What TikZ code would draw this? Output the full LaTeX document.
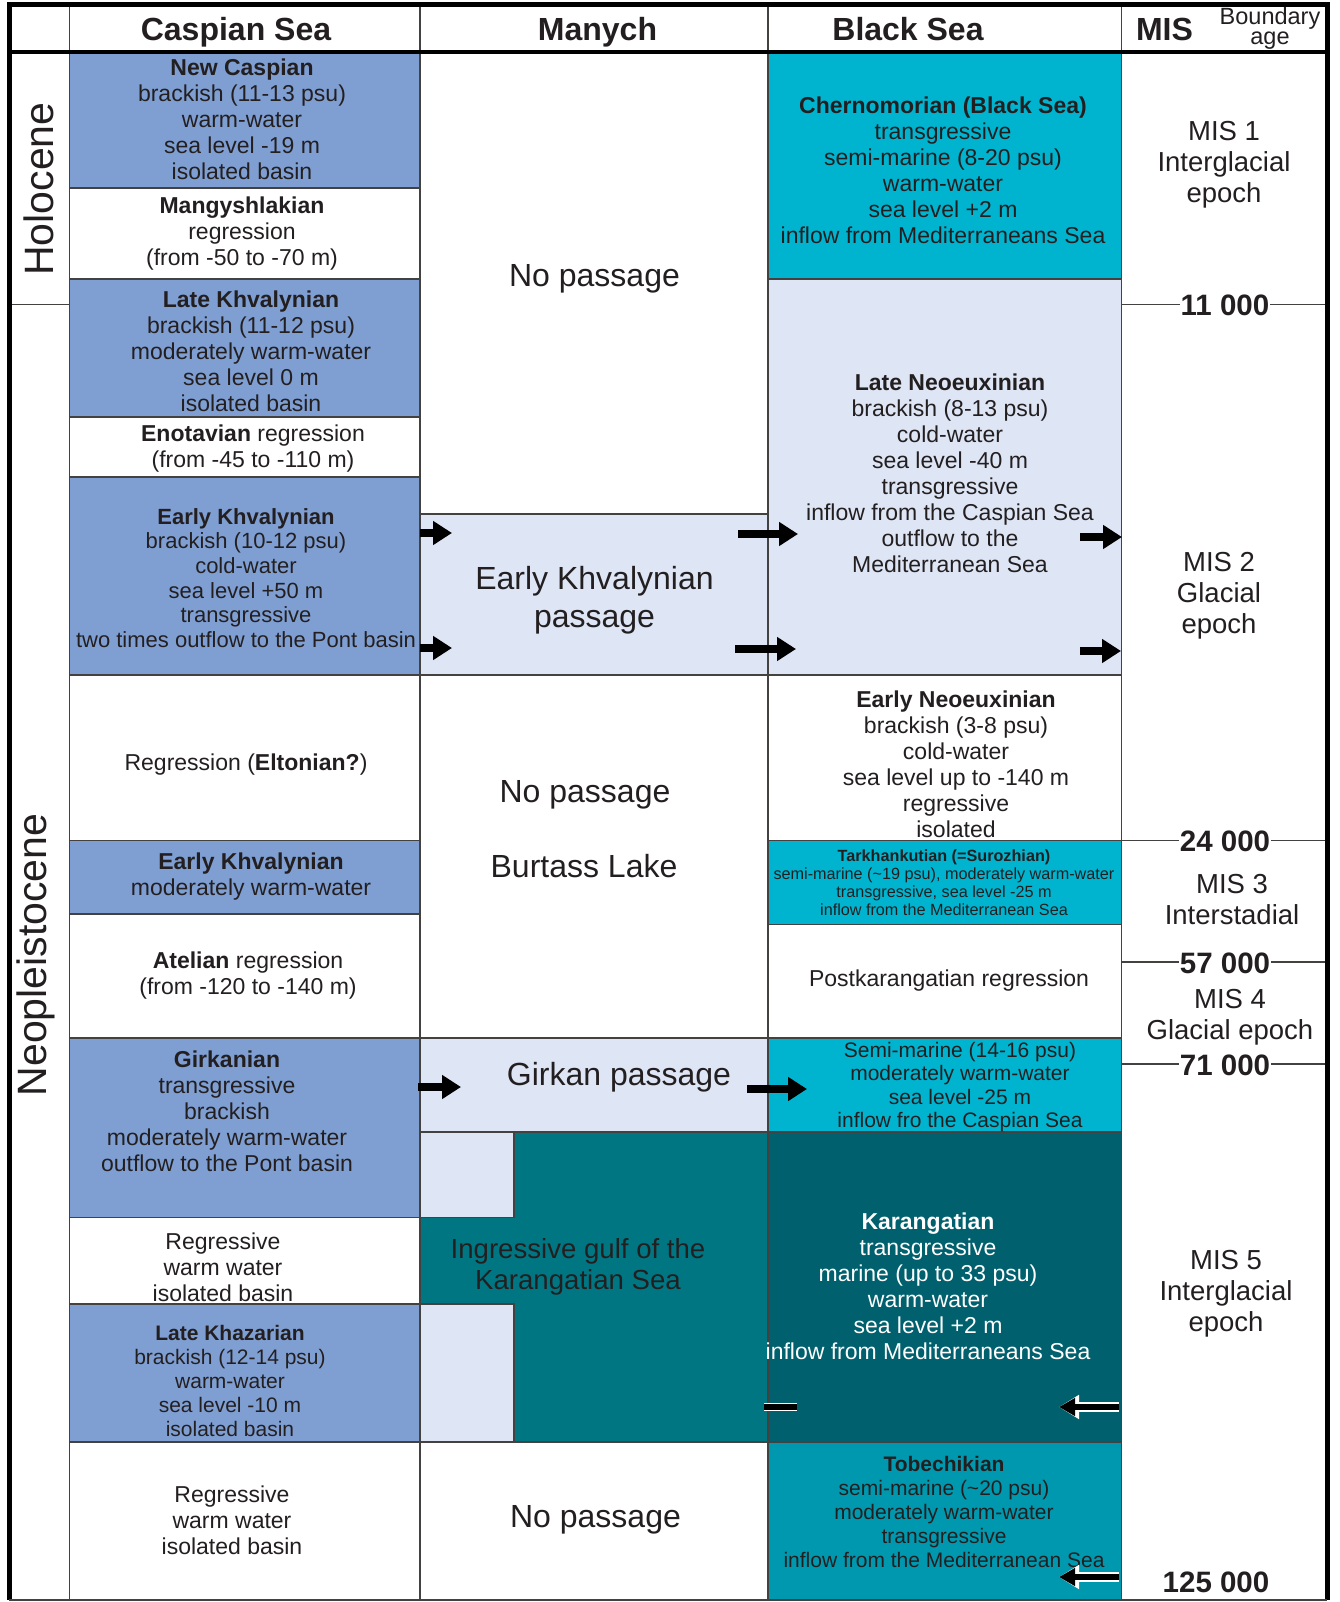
\documentclass[tikz,border=0pt]{standalone}
\usepackage{fontspec}
\setmainfont{Liberation Sans}
\usetikzlibrary{arrows.meta}
\definecolor{caspblue}{HTML}{7F9FD3}
\definecolor{passblue}{HTML}{DEE5F5}
\definecolor{seacyan}{HTML}{00B4D0}
\definecolor{gulfteal}{HTML}{007682}
\definecolor{kardark}{HTML}{00606E}
\definecolor{tobteal}{HTML}{0098AE}
\definecolor{ink}{HTML}{231F20}

\begin{document}
\begin{tikzpicture}[x=1pt, y=-1pt,
    cell/.style={draw=ink!85, line width=1.3pt},
    casp/.style={cell, fill=caspblue},
    pass/.style={cell, fill=passblue},
    sea/.style={cell, fill=seacyan},
    blank/.style={cell, fill=white},
    txt/.style={align=center, text=ink, inner sep=0pt, font=\fontsize{23}{26}\selectfont},
    big/.style={txt, font=\fontsize{32}{38}\selectfont},
    mis/.style={txt, font=\fontsize{27.5}{31}\selectfont},
    head/.style={txt, anchor=base, font=\bfseries\fontsize{32}{34}\selectfont},
    era/.style={txt, rotate=90, font=\fontsize{41}{44}\selectfont},
    age/.style={txt, fill=white, inner xsep=1pt, inner ysep=3pt, font=\bfseries\fontsize{29.5}{32}\selectfont},
    flow/.style={line width=8pt, -{Triangle[length=19pt, width=23pt]}},
    back/.style={line width=6pt, draw=black, -{Triangle[length=16pt, width=17pt]},
        preaction={draw=white, line width=9.5pt, -{Triangle[length=20pt, width=23pt]}}}]

\useasboundingbox (0,0) rectangle (1339,1602);
\fill[white] (0,0) rectangle (1339,1602);

% Caspian Sea column
\draw[casp]  (69.5,53)    rectangle (420,188);
\draw[blank] (69.5,188)   rectangle (420,279);
\draw[casp]  (69.5,279)   rectangle (420,417);
\draw[blank] (69.5,417)   rectangle (420,477);
\draw[casp]  (69.5,477)   rectangle (420,675);
\draw[blank] (69.5,675)   rectangle (420,840.6);
\draw[casp]  (69.5,840.6) rectangle (420,914);
\draw[blank] (69.5,914)   rectangle (420,1038);
\draw[casp]  (69.5,1038)  rectangle (420,1217.5);
\draw[blank] (69.5,1217.5) rectangle (420,1304);
\draw[casp]  (69.5,1304)  rectangle (420,1442);
\draw[blank] (69.5,1442)  rectangle (420,1600);

% Manych column
\draw[blank] (420,53)   rectangle (768,514);
\draw[pass]  (420,514)  rectangle (768,675);
\draw[blank] (420,675)  rectangle (768,1038);
\draw[pass]  (420,1038) rectangle (768,1132);
\draw[cell, fill=gulfteal] (514,1132) -- (768,1132) -- (768,1442) -- (514,1442)
    -- (514,1304) -- (420,1304) -- (420,1217.5) -- (514,1217.5) -- cycle;
\draw[pass]  (420,1132) rectangle (514,1217.5);
\draw[pass]  (420,1304) rectangle (514,1442);
\draw[blank] (420,1442) rectangle (768,1600);

% Black Sea column
\draw[sea]   (768,53)    rectangle (1121.5,279);
\draw[pass]  (768,279)   rectangle (1121.5,675);
\draw[blank] (768,675)   rectangle (1121.5,840.6);
\draw[sea]   (768,840.6) rectangle (1121.5,924.4);
\draw[blank] (768,924.4) rectangle (1121.5,1038);
\draw[sea]   (768,1038)  rectangle (1121.5,1132);
\draw[cell, fill=kardark] (768,1132) rectangle (1121.5,1442);
\draw[cell, fill=tobteal] (768,1442) rectangle (1121.5,1600);

% header and epoch separators
\draw[cell] (69.5,4) -- (69.5,1600);
\draw[cell] (420,4) -- (420,53);
\draw[cell] (768,4) -- (768,53);
\draw[cell] (1121.5,4) -- (1121.5,1600);
\draw[line width=4pt] (9,52) -- (1327,52);
\draw[cell] (9,304.4) -- (69.5,304.4);

% boundary lines in the MIS column
\draw[cell] (1121.5,304.4) -- (1327,304.4);
\draw[cell] (1121.5,840.6) -- (1327,840.6);
\draw[cell] (1121.5,962)   -- (1327,962);
\draw[cell] (1121.5,1064)  -- (1327,1064);

% header
\node[head] (h-casp) at (236,40.5) {Caspian Sea};
\node[head] (h-manych) at (597.5,40.5) {Manych};
\node[head] (h-black) at (908,40.5) {Black Sea};
\node[head] (h-mis) at (1164.5,40.5) {MIS};
\node[txt, font=\fontsize{23.5}{19.5}\selectfont] (h-age) at (1270,28.5) {Boundary\\age};

% epochs
\node[era] (holocene) at (39,189) {Holocene};
\node[era] (neopleist) at (36,955) {Neopleistocene};

% Caspian Sea texts
\node[txt] (casp-new) at (242,119.5) {\textbf{New Caspian}\\brackish (11-13 psu)\\warm-water\\sea level -19 m\\isolated basin};
\node[txt] (casp-mang) at (242,234) {\textbf{Mangyshlakian}\\regression\\(from -50 to -70 m)};
\node[txt] (casp-latekh) at (251,351) {\textbf{Late Khvalynian}\\brackish (11-12 psu)\\moderately warm-water\\sea level 0 m\\isolated basin};
\node[txt] (casp-enot) at (253,449) {\textbf{Enotavian} regression\\(from -45 to -110 m)};
\node[txt, font=\fontsize{22}{24.7}\selectfont] (casp-earlykh) at (246,578) {\textbf{Early Khvalynian}\\brackish (10-12 psu)\\cold-water\\sea level +50 m\\transgressive\\two times outflow to the Pont basin};
\node[txt] (casp-elton) at (246,765) {Regression (\textbf{Eltonian?})};
\node[txt] (casp-earlykh2) at (251,877) {\textbf{Early Khvalynian}\\moderately warm-water};
\node[txt] (casp-atel) at (248,976) {\textbf{Atelian} regression\\(from -120 to -140 m)};
\node[txt] (casp-girk) at (227,1111) {\textbf{Girkanian}\\transgressive\\brackish\\moderately warm-water\\outflow to the Pont basin};
\node[txt] (casp-regr1) at (223,1267) {Regressive\\warm water\\isolated basin};
\node[txt, font=\fontsize{21}{24}\selectfont] (casp-latekhaz) at (230,1381) {\textbf{Late Khazarian}\\brackish (12-14 psu)\\warm-water\\sea level -10 m\\isolated basin};
\node[txt] (casp-regr2) at (232,1520) {Regressive\\warm water\\isolated basin};

% Manych texts
\node[big] (man-no1) at (594.5,279) {No passage};
\node[big] (man-earlykh) at (594.5,600) {Early Khvalynian\\passage};
\node[big] (man-no2) at (585,795) {No passage};
\node[big] (man-burtass) at (584,866) {Burtass Lake};
\node[big] (man-girk) at (619,1077) {Girkan passage};
\node[txt, font=\fontsize{27.6}{31}\selectfont] (man-gulf) at (578,1267) {Ingressive gulf of the\\Karangatian Sea};
\node[big] (man-no3) at (595.5,1520) {No passage};

% Black Sea texts
\node[txt] (bs-chern) at (943,170) {\textbf{Chernomorian (Black Sea)}\\transgressive\\semi-marine (8-20 psu)\\warm-water\\sea level +2 m\\inflow from Mediterraneans Sea};
\node[txt] (bs-lateneo) at (950,473) {\textbf{Late Neoeuxinian}\\brackish (8-13 psu)\\cold-water\\sea level -40 m\\transgressive\\inflow from the Caspian Sea\\outflow to the\\Mediterranean Sea};
\node[txt] (bs-earlyneo) at (956,764) {\textbf{Early Neoeuxinian}\\brackish (3-8 psu)\\cold-water\\sea level up to -140 m\\regressive\\isolated};
\node[txt, font=\fontsize{16.2}{18}\selectfont] (bs-tark) at (944,883) {\textbf{Tarkhankutian (=Surozhian)}\\semi-marine (\textasciitilde19 psu), moderately warm-water\\transgressive, sea level -25 m\\inflow from the Mediterranean Sea};
\node[txt] (bs-postk) at (949,981) {Postkarangatian regression};
\node[txt, font=\fontsize{21}{23.5}\selectfont] (bs-semi) at (960,1087) {Semi-marine (14-16 psu)\\moderately warm-water\\sea level -25 m\\inflow fro the Caspian Sea};
\node[txt, text=white] (bs-kar) at (928,1286.5) {\textbf{Karangatian}\\transgressive\\marine (up to 33 psu)\\warm-water\\sea level +2 m\\inflow from Mediterraneans Sea};
\node[txt, font=\fontsize{21}{23.8}\selectfont] (bs-tob) at (944,1512) {\textbf{Tobechikian}\\semi-marine (\textasciitilde20 psu)\\moderately warm-water\\transgressive\\inflow from the Mediterranean Sea};

% MIS texts
\node[mis] (mis1) at (1224,165) {MIS 1\\Interglacial\\epoch};
\node[mis] (mis2) at (1219,596) {MIS 2\\Glacial\\epoch};
\node[mis] (mis3) at (1232,900) {MIS 3\\Interstadial};
\node[mis] (mis4) at (1230,1017) {MIS 4\\Glacial epoch};
\node[mis] (mis5) at (1226,1294) {MIS 5\\Interglacial\\epoch};

% boundary ages
\node[age] (age-11) at (1225,305.5) {11 000};
\node[age] (age-24) at (1225,841.5) {24 000};
\node[age] (age-57) at (1225,963) {57 000};
\node[age] (age-71) at (1225,1065) {71 000};
\node[age, fill=none] (age-125) at (1216,1582) {125 000};

% flows of the Early Khvalynian passage
\coordinate (ek-in1) at (420,533);    \coordinate (ek-in1e) at (452,533);
\coordinate (ek-in2) at (420,648);    \coordinate (ek-in2e) at (452,648);
\coordinate (ek-out1) at (738,534);   \coordinate (ek-out1e) at (798,534);
\coordinate (ek-out2) at (735,649);   \coordinate (ek-out2e) at (796,649);
\coordinate (ek-med1) at (1080,537);  \coordinate (ek-med1e) at (1122,537);
\coordinate (ek-med2) at (1080,651);  \coordinate (ek-med2e) at (1121,651);
\draw[flow] (ek-in1) -- (ek-in1e);
\draw[flow] (ek-in2) -- (ek-in2e);
\draw[flow] (ek-out1) -- (ek-out1e);
\draw[flow] (ek-out2) -- (ek-out2e);
\draw[flow] (ek-med1) -- (ek-med1e);
\draw[flow] (ek-med2) -- (ek-med2e);

% flows of the Girkan passage
\coordinate (gp-in) at (418,1087);   \coordinate (gp-ine) at (461,1087);
\coordinate (gp-out) at (747,1089);  \coordinate (gp-oute) at (807,1089);
\draw[flow] (gp-in) -- (gp-ine);
\draw[flow] (gp-out) -- (gp-oute);

% inflows from the Mediterranean
\coordinate (kar-in) at (1119,1407);  \coordinate (kar-ine) at (1059,1407);
\coordinate (tob-in) at (1119,1577);  \coordinate (tob-ine) at (1059,1577);
\coordinate (kar-gap) at (764,1407);  \coordinate (kar-gape) at (797,1407);
\draw[back] (kar-in) -- (kar-ine);
\draw[back] (tob-in) -- (tob-ine);
\draw[line width=5.5pt, preaction={draw=white, line width=8.5pt}] (kar-gap) -- (kar-gape);

% outer frame
\draw[line width=5pt] (9,1600) -- (9,4.5) -- (1327,4.5) -- (1327,1600);
\draw[cell] (9,1600) -- (1327,1600);

\end{tikzpicture}
\end{document}
